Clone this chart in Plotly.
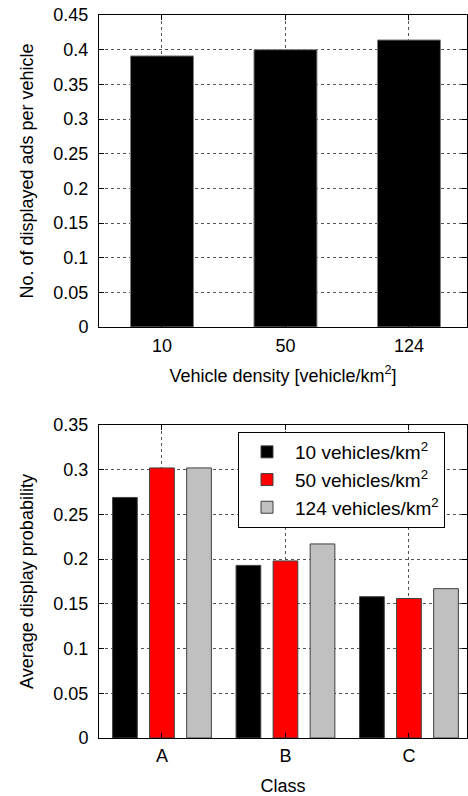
import plotly.graph_objects as go

# Top chart data
densities = ["10", "50", "124"]
ads_per_vehicle = [0.391, 0.400, 0.414]

# Bottom chart data
classes = ["A", "B", "C"]
series_names = ["10 vehicles/km<sup>2</sup>", "50 vehicles/km<sup>2</sup>", "124 vehicles/km<sup>2</sup>"]
prob_10 = [0.269, 0.193, 0.158]
prob_50 = [0.302, 0.198, 0.156]
prob_124 = [0.302, 0.217, 0.167]
series_colors = ["#000000", "#ff0000", "#c0c0c0"]

W, H = 468, 796
FONT = "Liberation Sans, Arial, sans-serif"
FS = 18

fig = go.Figure()

fig.add_trace(go.Bar(
    x=densities, y=ads_per_vehicle, xaxis="x", yaxis="y",
    marker=dict(color="#000000", line=dict(color="#808080", width=1)),
    width=0.51, showlegend=False,
))

for name, vals, col in zip(series_names, [prob_10, prob_50, prob_124], series_colors):
    fig.add_trace(go.Bar(
        x=classes, y=vals, name=name, xaxis="x2", yaxis="y2",
        marker=dict(color=col, line=dict(color="#404040", width=1)),
    ))

def px_x(p):
    return p / W

def px_y(p):
    return 1 - p / H

axis_common = dict(
    showline=True, linecolor="black", linewidth=1, mirror="ticks",
    ticks="inside", ticklen=5, tickcolor="black", automargin=False,
    showgrid=True, gridcolor="#555555", griddash="dot", gridwidth=1,
    zeroline=False, tickfont=dict(size=FS, color="black", family=FONT),
    title_font=dict(size=FS, color="black", family=FONT),
)

fig.update_layout(
    width=W, height=H,
    margin=dict(l=0, r=0, t=0, b=0, autoexpand=False),
    paper_bgcolor="white", plot_bgcolor="white",
    font=dict(family=FONT, color="black", size=FS),
    barmode="group", bargap=0.1, bargroupgap=0.333,
    xaxis=dict(domain=[px_x(99), px_x(467)], anchor="y", type="category",
               range=[-0.51, 2.47], ticklabelstandoff=2,
               title=dict(text="Vehicle density [vehicle/km<sup>2</sup>]", standoff=14),
               **axis_common),
    yaxis=dict(domain=[px_y(327), px_y(15)], anchor="x", range=[0, 0.45],
               dtick=0.05, tickformat="~g", ticklabelstandoff=6,
               title=dict(text="No. of displayed ads per vehicle", standoff=15),
               **axis_common),
    xaxis2=dict(domain=[px_x(99), px_x(467)], anchor="y2", type="category",
                range=[-0.51, 2.47], ticklabelstandoff=1,
                title=dict(text="Class", standoff=17),
                **axis_common),
    yaxis2=dict(domain=[px_y(738), px_y(425)], anchor="x2", range=[0, 0.35],
                dtick=0.05, tickformat="~g", ticklabelstandoff=6,
                title=dict(text="Average display probability", standoff=15),
                **axis_common),
    legend=dict(x=px_x(238), y=px_y(432), xanchor="left", yanchor="top",
                bgcolor="white", bordercolor="black", borderwidth=1,
                font=dict(size=19, family=FONT, color="black"),
                tracegroupgap=0, itemwidth=46),
)

fig.write_html(
    "out.html",
    config={"displayModeBar": False},
    post_script="document.body.style.margin='0';document.body.style.overflow='hidden';",
)
